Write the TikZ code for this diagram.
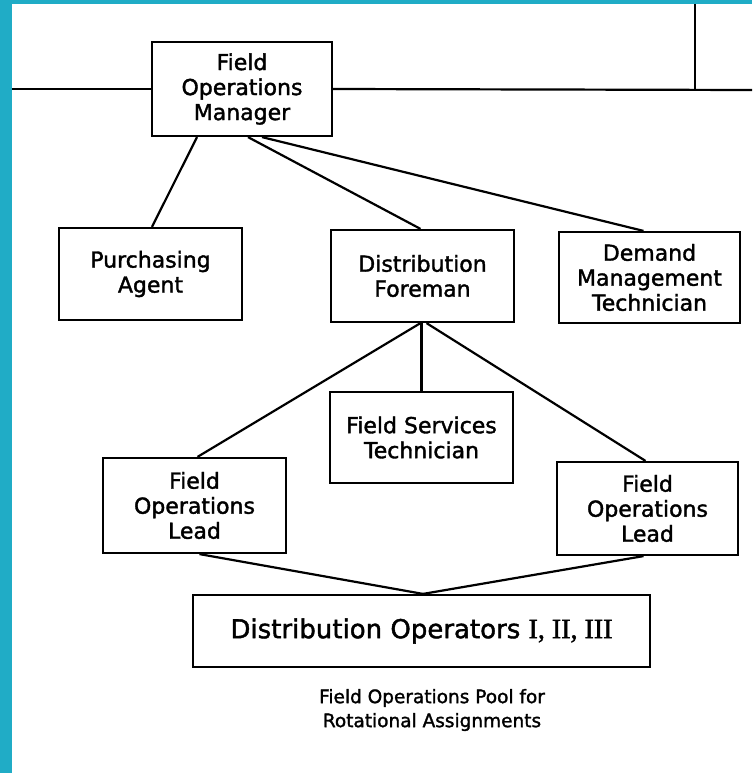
\documentclass[tikz,border=0pt]{standalone}
\usepackage{fontspec}
\setmainfont[FakeBold=1.6]{DejaVu Sans}
\newfontfamily\romfont[FakeBold=1.6]{Liberation Serif}
\definecolor{tealbar}{RGB}{32,172,198}
\begin{document}
\begin{tikzpicture}[x=1pt,y=-1pt,
  box/.style={draw=black, line width=2.2pt, fill=white, align=center, inner sep=0pt,
    font=\fontsize{22}{25}\selectfont},
  conn/.style={draw=black, line width=2.2pt}]
\useasboundingbox (0,0) rectangle (752,773);
\fill[white] (0,0) rectangle (752,773);
\fill[tealbar] (0,0) rectangle (752,4);
\fill[tealbar] (0,0) rectangle (12,773);
% nodes
\node[box, minimum width=180, minimum height=94] (fom) at (242,89) {Field\\Operations\\Manager};
\node[box, minimum width=183, minimum height=92] (pa) at (150.5,274) {Purchasing\\Agent};
\node[box, minimum width=183, minimum height=92] (df) at (422.5,276) {Distribution\\Foreman};
\node[box, minimum width=181, minimum height=91] (dmt) at (649.5,277.5) {Demand\\Management\\Technician};
\node[box, minimum width=183, minimum height=91] (fst) at (421.5,437.5) {Field Services\\Technician};
\node[box, minimum width=183, minimum height=95] (foll) at (194.5,505.5) {Field\\Operations\\Lead};
\node[box, minimum width=181, minimum height=93] (folr) at (647.5,508.5) {Field\\Operations\\Lead};
\node[box, minimum width=457, minimum height=72, font=\fontsize{26}{28}\selectfont] (do) at (421.5,631) {Distribution Operators {\romfont\fontsize{28}{28}\selectfont I, II, III}};
\node[align=center, inner sep=0pt, font=\fontsize{18.5}{24}\selectfont] (cap) at (432,710) {Field Operations Pool for\\Rotational Assignments};
% top lines
\coordinate (leftend) at (12,89);
\coordinate (rightend) at (752,90);
\coordinate (vtop) at (695,4);
\coordinate (vbot) at (695,90);
\draw[conn] (leftend) -- (fom.west);
\draw[conn] (fom.east) -- (rightend);
\draw[conn] (vtop) -- (vbot);
% connectors
\draw[conn] ([xshift=-45]fom.south) -- ([xshift=1.5]pa.north);
\draw[conn] ([xshift=6]fom.south) -- ([xshift=-2]df.north);
\draw[conn] ([xshift=20]fom.south) -- ([xshift=-6]dmt.north);
\draw[conn] ([xshift=-2]df.south) -- ([xshift=3]foll.north);
\draw[conn] ([xshift=-1]df.south) -- (fst.north);
\draw[conn] ([xshift=4]df.south) -- ([xshift=-2]folr.north);
\draw[conn] ([xshift=5]foll.south) -- ([xshift=1.5]do.north);
\draw[conn] ([xshift=-4]folr.south) -- ([xshift=1.5]do.north);
\end{tikzpicture}
\end{document}
